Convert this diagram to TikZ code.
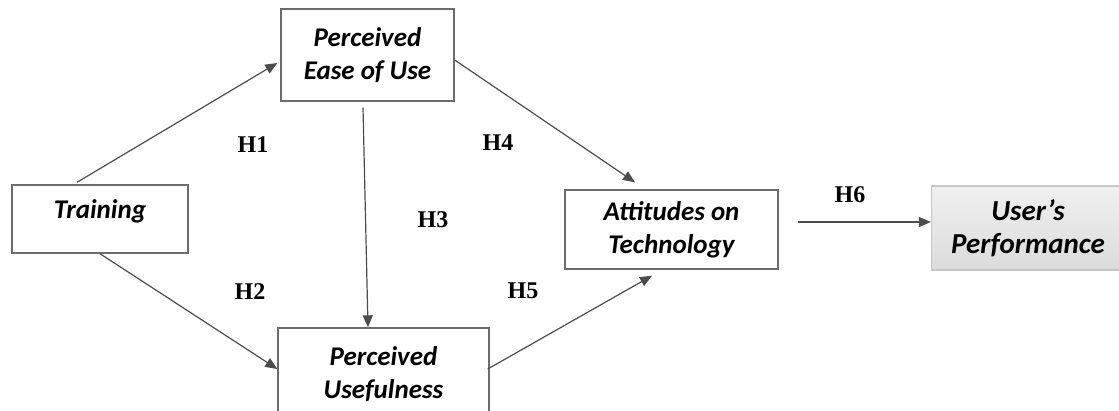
\documentclass[tikz,border=0pt]{standalone}
\usepackage{fontspec}
\setsansfont{Carlito}
\newfontfamily\hfont{Liberation Serif}
\usepackage{xcolor}
\usepackage{tikz}
\usetikzlibrary{arrows.meta, calc}

\begin{document}
\begin{tikzpicture}[
    x=1pt, y=-1pt,
    box/.style={rectangle, draw=gray!85!black, line width=1.4pt, fill=white, align=center, inner sep=2pt, font=\fontsize{27}{33}\selectfont\sffamily\bfseries\itshape},
    outbox/.style={box, draw=gray!45, top color=gray!12, bottom color=gray!28, font=\fontsize{29}{33}\selectfont\sffamily\bfseries\itshape},
    hyp/.style={font=\fontsize{24}{24}\selectfont\hfont\bfseries, inner sep=0pt},
    arr/.style={-{Triangle[length=12pt, width=10pt]}, line width=1.2pt, gray!60!black},
  ]
    \useasboundingbox (0,0) rectangle (1119,410);
    \begin{scope}
      \clip (0,0) rectangle (1119,410);
      \node[box, minimum width=176pt, minimum height=68pt, text height=20pt, text depth=21pt] (train) at (100,219) {Training};
      \node[box, minimum width=173pt, minimum height=92pt] (peou) at (367.5,55) {Perceived\\Ease of Use};
      \node[box, minimum width=211pt, minimum height=92pt] (pu) at (383.5,374) {Perceived\\Usefulness};
      \node[box, minimum width=213pt, minimum height=79pt] (att) at (671.5,229.5) {Attitudes on\\Technology};
      \node[outbox, minimum width=193pt, minimum height=84pt] (perf) at (1028,228) {User’s\\Performance};
    \end{scope}

    \node[hyp] (h1) at (253,145) {H1};
    \node[hyp] (h2) at (250,292) {H2};
    \node[hyp] (h3) at (433,220) {H3};
    \node[hyp] (h4) at (498,143) {H4};
    \node[hyp] (h5) at (523,291) {H5};
    \node[hyp] (h6) at (850,195) {H6};

    \draw[arr] ([xshift=-23pt,yshift=2pt]train.north) -- ([xshift=-3pt,yshift=-8pt]peou.west);
    \draw[arr] (train.south) -- ([yshift=5pt]pu.west);
    \draw[arr] ([xshift=-4.5pt,yshift=-6pt]peou.south) -- ([xshift=-15.5pt]pu.north);
    \draw[arr] ([yshift=-5pt]peou.east) -- ([xshift=-36.5pt,yshift=7pt]att.north);
    \draw[arr] ([xshift=-2pt,yshift=5pt]pu.east) -- ([xshift=-19.5pt,yshift=-6pt]att.south);
    \draw[arr] ([xshift=19pt,yshift=7.5pt]att.east) -- ([yshift=6pt]perf.west);
  \end{tikzpicture}
\end{document}
